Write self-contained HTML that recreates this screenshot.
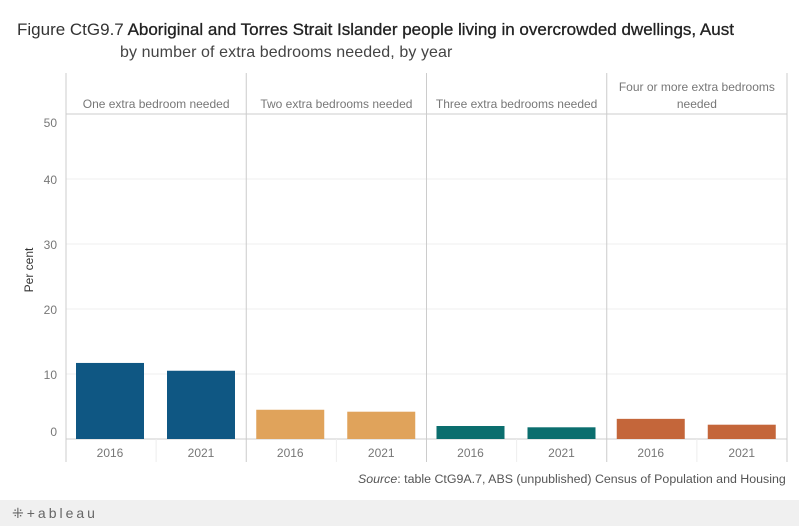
<!DOCTYPE html>
<html><head><meta charset="utf-8"><style>
body{margin:0;width:799px;height:526px;background:#fff;font-family:"Liberation Sans",sans-serif;overflow:hidden;position:relative}
.t{position:absolute;white-space:nowrap}
</style></head><body>
<div class="t" style="left:17px;top:20px;font-size:17px;color:#333">Figure CtG9.7 <b style="font-weight:normal;color:#222;-webkit-text-stroke:0.3px #222">Aboriginal and Torres Strait Islander people living in overcrowded dwellings, Aust</b></div>
<div class="t" style="left:120px;top:44px;font-size:16px;letter-spacing:0.1px;color:#444">by number of extra bedrooms needed, by year</div>
<svg id="c" width="799" height="526" style="position:absolute;left:0;top:0"></svg>
<div class="t" style="left:358px;top:472px;font-size:12.4px;color:#555"><i>Source</i>: table CtG9A.7, ABS (unpublished) Census of Population and Housing</div>
<div style="position:absolute;left:0;top:500px;width:799px;height:26px;background:#f0f0f0"><span class="t" style="left:12px;top:5px;font-size:14px;color:#666;letter-spacing:3px">⁜+ableau</span></div>
<script>
const categories=["One extra bedroom needed","Two extra bedrooms needed","Three extra bedrooms needed","Four or more extra bedrooms needed"];
const years=["2016","2021"];
const values2016=[11.7,4.5,2.0,3.1];
const values2021=[10.5,4.2,1.8,2.2];
const colors=["#0f5783","#e0a35b","#0b6e6e","#c4663a"];
const ticks=[0,10,20,30,40,50];
const NS="http://www.w3.org/2000/svg";
const svg=document.getElementById('c');
const x0=66,pw=180.25,y0=439,yTop=114;
const y=v=>y0-(v/50)*(y0-yTop);
function el(t,a){const e=document.createElementNS(NS,t);for(const k in a)e.setAttribute(k,a[k]);svg.appendChild(e);return e;}
ticks.forEach(t=>{
  if(t>0&&t<50){const g=el('line',{x1:x0,x2:787,y1:y(t),y2:y(t),stroke:'#efefef'});
  
  }
  const yy=t==0?y(t)-3:(t==50?y(t)+13:y(t)+5);
  const l=el('text',{x:57,y:yy,'text-anchor':'end','font-size':12,fill:'#777','font-family':'Liberation Sans'});
  l.textContent=t;
  
  
});
const yt=el('text',{transform:'translate(33,270) rotate(-90)','text-anchor':'middle','font-size':12,fill:'#333','font-family':'Liberation Sans'});
yt.textContent='Per cent';


const hl=el('line',{x1:x0,x2:787,y1:yTop,y2:yTop,stroke:'#ccc'});


const al=el('line',{x1:x0,x2:787,y1:y0,y2:y0,stroke:'#ccc'});


for(let i=0;i<=4;i++){const v=el('line',{x1:x0+i*pw,x2:x0+i*pw,y1:73,y2:462,stroke:'#ccc'});

}
categories.forEach((c,i)=>{
  const px=x0+i*pw;
  const h=el('text',{x:px+pw/2,'text-anchor':'middle','font-size':12,fill:'#777','font-family':'Liberation Sans'});
  
  
  if(c.length>30){h.setAttribute('y',91);h.textContent='Four or more extra bedrooms';
    const h2=el('text',{x:px+pw/2,y:108,'text-anchor':'middle','font-size':12,fill:'#777','font-family':'Liberation Sans'});h2.textContent='needed';
    
    }
  else{h.setAttribute('y',108);h.textContent=c;}
  const sep=el('line',{x1:px+pw/2,x2:px+pw/2,y1:y0,y2:462,stroke:'#eee'});
  
  
  [values2016[i],values2021[i]].forEach((val,j)=>{
    const bx=px+10+j*91;
    const b=el('rect',{x:bx,y:y(val),width:68,height:y0-y(val),fill:colors[i]});
    
    
    const tl=el('text',{x:bx+34,y:457,'text-anchor':'middle','font-size':12,fill:'#777','font-family':'Liberation Sans'});
    tl.textContent=years[j];
    
    
  });
});
</script>
</body></html>
